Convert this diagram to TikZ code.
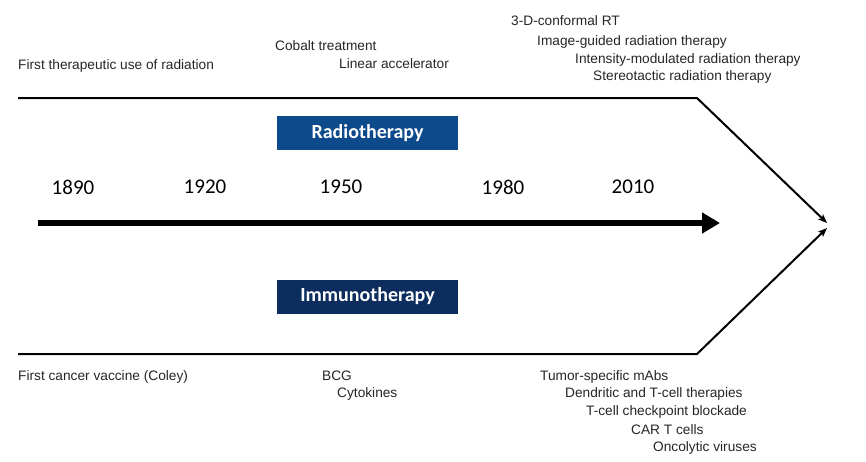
\documentclass[tikz,border=0pt]{standalone}
\usepackage{fontspec}
\setmainfont{Liberation Sans}
\newfontfamily\yearfont{Carlito}
\usepackage{tikz}
\usetikzlibrary{arrows.meta,positioning}
\definecolor{radioblue}{HTML}{0D4A8C}
\definecolor{immunoblue}{HTML}{0C2D5E}

\begin{document}
\begin{tikzpicture}[
  x=1pt,y=-1pt,
  event/.style={anchor=west,inner sep=0pt,font=\fontsize{13.7}{16}\selectfont,text=black!85},
  year/.style={inner sep=0pt,font=\yearfont\fontsize{21}{24}\selectfont},
  band/.style={fill=#1,minimum width=181pt,minimum height=34pt,inner sep=0pt,
    text=white,font=\yearfont\bfseries\fontsize{20}{22}\selectfont},
  track/.style={line width=2pt,-{Stealth[length=9pt,width=7pt,inset=2pt]}},
  timeline/.style={line width=6pt,-{Triangle[length=18pt,width=20pt]}}
]
\useasboundingbox[fill=white] (0,0) rectangle (866,461);

% bands
\node[band=radioblue] (radio) at (367.5,133) {Radiotherapy};
\node[band=immunoblue] (immuno) at (367.5,296.5) {Immunotherapy};

% years
\node[year] (y1890) at (73,187) {1890};
\node[year] (y1920) at (205,187) {1920};
\node[year] (y1950) at (341,187) {1950};
\node[year] (y1980) at (503,187) {1980};
\node[year] (y2010) at (633,187) {2010};

% radiotherapy milestones
\node[event] (firstrad) at (18,66) {First therapeutic use of radiation};
\node[event] (cobalt) at (275,46) {Cobalt treatment};
\node[event] (linac) at (339,64) {Linear accelerator};
\node[event] (conformal) at (511,21) {3-D-conformal RT};
\node[event] (igrt) at (537,42) {Image-guided radiation therapy};
\node[event] (imrt) at (575,60) {Intensity-modulated radiation therapy};
\node[event] (sbrt) at (593,77) {Stereotactic radiation therapy};

% immunotherapy milestones
\node[event] (coley) at (18,377) {First cancer vaccine (Coley)};
\node[event] (bcg) at (322,376) {BCG};
\node[event] (cytokines) at (337,394) {Cytokines};
\node[event] (mabs) at (540,377) {Tumor-specific mAbs};
\node[event] (dendritic) at (565,394) {Dendritic and T-cell therapies};
\node[event] (checkpoint) at (586,412) {T-cell checkpoint blockade};
\node[event] (cart) at (631,430) {CAR T cells};
\node[event] (oncolytic) at (653,448) {Oncolytic viruses};

% tracks
\coordinate (radstart) at (18,98);
\coordinate (radbend) at (697,98);
\coordinate (radend) at (827,223);
\coordinate (immstart) at (18,354);
\coordinate (immbend) at (697,354);
\coordinate (immend) at (827,228);
\coordinate (timestart) at (38,223);
\coordinate (timeend) at (720,223);

\draw[track] (radstart) -- (radbend) -- (radend);
\draw[track] (immstart) -- (immbend) -- (immend);
\draw[timeline] (timestart) -- (timeend);
\end{tikzpicture}
\end{document}
